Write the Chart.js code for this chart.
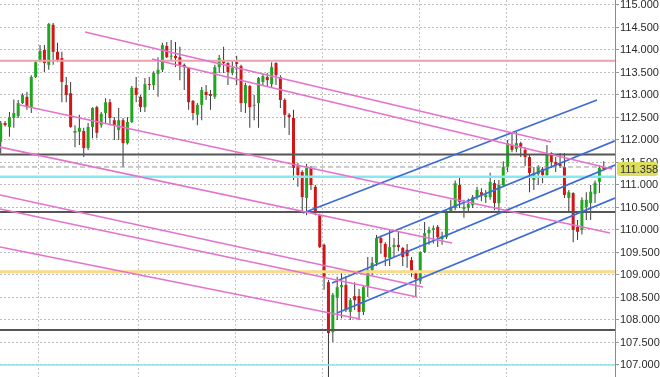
<!DOCTYPE html>
<html><head><meta charset="utf-8">
<script src="https://cdn.jsdelivr.net/npm/chart.js@4/dist/chart.umd.min.js"></script>
<style>html,body{margin:0;padding:0;background:#fff;overflow:hidden}#c{display:block}</style>
</head><body>
<canvas id="c" width="660" height="377"></canvas>
<script>
// ---- data (candle index / price) ----
const opens = [111.96,112.38,112.29,112.49,112.53,112.82,112.96,112.73,113.40,113.78,
114.00,113.67,114.56,113.96,113.82,113.22,113.04,112.16,112.18,112.20,
111.82,112.29,112.73,112.33,112.60,112.84,112.44,112.22,112.44,111.93,
112.40,113.16,112.96,112.73,113.24,113.22,113.47,113.56,114.09,113.85,
113.87,113.84,113.67,113.60,112.87,112.56,112.78,113.07,113.02,112.96,
113.62,113.78,113.71,113.49,113.73,113.64,112.82,113.20,112.76,112.82,
113.29,113.40,113.24,113.71,113.40,112.89,112.56,112.49,111.42,111.29,
110.71,111.38,110.96,110.33,109.67,108.84,107.73,108.49,108.73,108.78,
108.18,108.53,108.53,108.18,108.73,109.11,109.27,109.82,109.69,109.38,
109.62,109.67,109.60,109.56,109.33,109.04,108.87,109.51,109.93,110.00,
110.07,109.80,109.84,110.40,110.49,111.00,110.47,110.49,110.55,110.73,
110.84,110.73,110.73,111.04,110.60,111.00,111.40,111.89,111.80,111.93,
111.78,111.62,111.11,111.24,111.36,111.22,111.71,111.51,111.47,111.40,
110.71,110.82,110.07,110.00,110.51,110.60,110.80,111.07,111.40];
const highs = [112.42,112.42,112.62,112.90,112.89,113.04,113.07,113.44,113.78,114.11,
114.11,114.60,114.60,114.16,113.96,113.40,113.29,112.33,112.56,112.27,
112.38,112.73,112.76,112.62,112.93,112.91,112.51,112.71,112.49,112.51,
113.20,113.40,113.00,113.38,113.40,113.53,113.84,114.16,114.18,114.22,
114.18,114.07,113.70,113.62,112.89,112.82,113.18,113.22,113.11,113.67,
113.89,114.07,113.73,113.76,113.87,113.67,113.27,113.22,113.00,113.40,
113.47,113.49,113.73,113.73,113.44,112.93,112.60,112.67,111.49,111.33,
111.47,111.42,111.00,110.36,109.70,108.89,108.60,108.96,109.04,108.98,
108.49,108.84,108.69,108.78,109.40,109.40,109.89,109.87,109.73,110.00,
109.82,109.96,109.62,109.69,109.40,109.07,109.53,110.18,110.07,110.10,
110.11,109.96,110.44,110.67,111.10,111.16,110.67,110.70,110.78,110.96,
110.93,110.89,111.27,111.11,111.11,111.53,112.00,112.16,112.18,111.96,
111.84,111.67,111.40,111.44,111.40,111.89,111.73,111.62,111.71,111.71,
110.89,110.84,110.22,110.73,110.84,111.00,111.10,111.44,111.53];
const lows = [111.70,112.30,112.07,112.27,112.49,112.80,112.67,112.60,113.38,113.73,
113.51,113.56,113.67,113.73,112.84,112.84,112.27,111.84,111.89,111.62,
111.78,112.04,112.04,112.27,112.38,112.33,112.00,112.00,111.40,111.90,
112.38,112.84,112.62,112.62,113.11,113.11,112.96,113.51,113.82,113.78,
113.62,113.33,113.11,112.67,112.44,112.33,112.44,112.89,112.67,112.91,
113.49,113.49,113.22,113.44,113.22,112.62,112.60,112.27,112.44,112.27,
113.22,113.18,113.18,113.22,112.71,112.27,112.11,111.11,110.96,110.40,
110.33,110.89,110.33,109.60,108.67,106.73,107.51,108.00,108.04,108.18,
108.00,108.22,108.00,108.11,108.51,109.00,109.20,109.47,109.20,109.20,
109.40,109.53,109.20,109.16,108.96,108.51,108.80,109.49,109.67,109.70,
109.62,109.67,109.80,110.38,110.44,110.49,110.27,110.42,110.49,110.67,
110.64,110.60,110.67,110.44,110.42,110.96,111.29,111.73,111.73,111.62,
111.42,110.84,110.89,111.00,111.04,111.18,111.38,111.29,111.38,110.71,
110.38,109.73,109.78,109.90,110.22,110.22,110.60,110.82,111.33];
const closes = [112.38,112.33,112.51,112.60,112.82,113.00,112.73,113.40,113.73,113.98,
113.71,114.58,113.96,113.78,113.29,113.00,112.29,112.20,112.27,111.82,
112.29,112.71,112.16,112.58,112.84,112.49,112.33,112.44,111.93,112.40,
113.16,113.00,112.73,113.24,113.22,113.49,113.56,114.11,113.84,113.87,
113.82,113.67,113.62,112.84,112.60,112.78,113.11,113.00,112.98,113.62,
113.82,113.71,113.51,113.60,113.69,112.82,113.22,112.73,112.78,113.38,
113.42,113.33,113.62,113.44,112.89,112.56,112.51,111.38,111.22,110.73,
111.38,111.00,110.38,109.62,108.93,107.71,108.56,108.73,108.78,108.22,
108.44,108.44,108.18,108.73,109.11,109.27,109.82,109.71,109.40,109.62,
109.67,109.62,109.40,109.42,109.07,108.91,109.51,109.93,110.00,110.04,
109.84,109.87,110.40,110.51,111.04,110.62,110.51,110.58,110.73,110.89,
110.78,110.78,111.07,110.60,111.00,111.40,111.93,111.78,111.93,111.84,
111.62,111.27,111.27,111.40,111.22,111.71,111.51,111.44,111.42,110.78,
110.84,110.00,109.96,110.67,110.67,110.85,111.05,111.38,111.36];
const lastPrice = 111.358;
const yTickValues = [107,107.5,108,108.5,109,109.5,110,110.5,111,111.5,112,112.5,113,113.5,114,114.5,115];
const dayBreaks = [8.54, 31.42, 53.62, 73.75, 95.72, 115.63];
// horizontal levels
const levelSalmon = [113.76];
const levelGray = [111.68, 110.40, 107.78];
const levelDashed = [111.40];
const levelCyanUpper = [111.185];
const levelCyanLower = [107.0];
const levelYellow = [109.07];
// trend lines: [index0, price0, index1, price1]
const pinkTrends = [
  [19.29,114.40,125.93,111.956],
  [34.62,113.80,139.89,111.356],
  [4.42,112.778,139.43,109.933],
  [-0.16,111.844,103.27,109.711],
  [-0.16,110.778,96.64,108.733],
  [-0.16,110.467,95.26,108.511],
  [-0.16,109.622,82.22,108.022]
];
const blueTrends = [
  [69.18,110.378,136.45,112.889],
  [86.11,109.822,140.57,111.98],
  [75.81,108.822,140.57,111.444],
  [76.96,108.156,140.57,110.711]
];
const X_MIN = -0.16, X_MAX = 140.57, Y_MIN = 106.733, Y_MAX = 115.111;

// ---- build datasets ----
const idx = opens.map((_, i) => i);
const up = idx.map(i => closes[i] >= opens[i]);
const GREEN = '#22a622', RED = '#d01616';
const datasets = [];
datasets.push({
  type: 'bar', data: idx.map(i => ({x: i, y: [lows[i], highs[i]]})),
  backgroundColor: '#3a3a3a', maxBarThickness: 1, grouped: false, order: 10, borderWidth: 0
});
datasets.push({
  type: 'bar', data: idx.map(i => ({x: i, y: [Math.min(opens[i], closes[i]), Math.max(opens[i], closes[i])]})),
  backgroundColor: idx.map(i => up[i] ? GREEN : RED), maxBarThickness: 3, minBarLength: 1,
  grouped: false, order: 9, borderWidth: 0
});
function hline(v, color, width, dash) {
  return {type: 'line', data: [{x: X_MIN, y: v}, {x: X_MAX, y: v}], borderColor: color, borderWidth: width,
    borderDash: dash || [], pointRadius: 0, fill: false, order: 5};
}
levelSalmon.forEach(v => datasets.push(hline(v, '#e9a2aa', 2)));
levelYellow.forEach(v => datasets.push(hline(v, '#f9d98a', 3)));
levelCyanUpper.forEach(v => datasets.push(hline(v, '#86e9f2', 2.5)));
levelCyanLower.forEach(v => datasets.push(hline(v, '#86e9f2', 1.5)));
levelDashed.forEach(v => datasets.push(hline(v, '#999999', 1, [5, 3])));
levelGray.forEach(v => datasets.push(hline(v, '#555555', 2)));
function tline(t, color) {
  return {type: 'line', data: [{x: t[0], y: t[1]}, {x: t[2], y: t[3]}], borderColor: color, borderWidth: 1.7,
    pointRadius: 0, fill: false, order: 2};
}
pinkTrends.forEach(t => datasets.push(tline(t, '#e572cc')));
blueTrends.forEach(t => datasets.push(tline(t, '#3c6ad8')));

const priceTag = {
  id: 'priceTag',
  afterDraw(chart) {
    const ys = chart.scales.y, ctx = chart.ctx;
    const py = Math.round(ys.getPixelForValue(lastPrice));
    const x0 = ys.left + 2, w = chart.width - x0 - 2, h = 14;
    ctx.save();
    ctx.fillStyle = '#dede5e';
    ctx.beginPath();
    if (ctx.roundRect) ctx.roundRect(x0, py - h / 2, w, h, 3); else ctx.rect(x0, py - h / 2, w, h);
    ctx.fill();
    ctx.fillStyle = '#333';
    ctx.font = '11px "Liberation Sans", Arial, sans-serif';
    ctx.textBaseline = 'middle'; ctx.textAlign = 'left';
    ctx.fillText(lastPrice.toFixed(3), ys.left + 5, py + 0.5);
    ctx.restore();
  }
};

new Chart(document.getElementById('c'), {
  type: 'bar',
  data: {datasets},
  plugins: [priceTag],
  options: {
    responsive: false, animation: false, devicePixelRatio: 1,
    layout: {padding: 0},
    plugins: {legend: {display: false}, tooltip: {enabled: false}},
    scales: {
      x: {
        type: 'linear', min: X_MIN, max: X_MAX, offset: false,
        afterBuildTicks: s => { s.ticks = dayBreaks.map(v => ({value: v})); },
        afterFit: s => { s.height = 0; s.paddingLeft = 0; s.paddingRight = 0; },
        ticks: {display: false},
        grid: {color: '#c4c4c4', drawTicks: false, offset: false, lineWidth: 1},
        border: {display: false, dash: [2, 2]}
      },
      y: {
        type: 'linear', position: 'right', min: Y_MIN, max: Y_MAX,
        afterBuildTicks: s => { s.ticks = yTickValues.map(v => ({value: v})); },
        afterFit: s => { s.width = 45; s.paddingTop = 0; s.paddingBottom = 0; },
        ticks: {callback: v => Number(v).toFixed(3), autoSkip: false, padding: 1, color: '#2a2a2a',
          font: {family: '"Liberation Sans", Arial, sans-serif', size: 11}},
        grid: {color: '#bcbcbc', tickColor: '#9a9a9a', tickLength: 4, drawTicks: true, lineWidth: 1},
        border: {display: true, color: '#8a8a8a', width: 1, dash: [2, 2]}
      }
    }
  }
});
</script>
</body></html>
